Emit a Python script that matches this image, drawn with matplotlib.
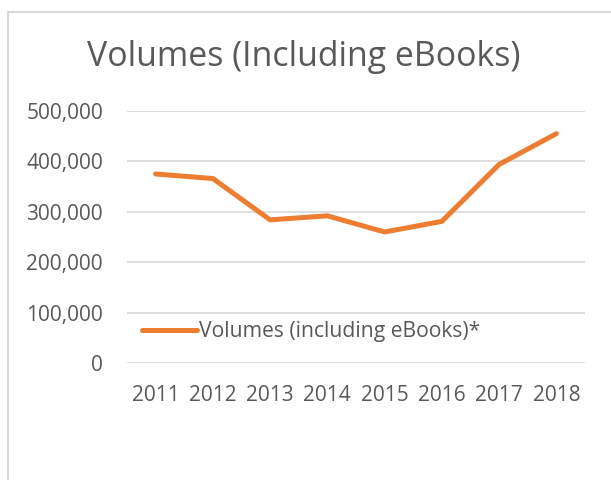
import matplotlib.pyplot as plt
from matplotlib.lines import Line2D
from matplotlib.ticker import FuncFormatter

years = ['2011', '2012', '2013', '2014', '2015', '2016', '2017', '2018']
volumes = [375000, 366000, 284000, 292000, 260000, 281000, 394000, 455000]
yticks = [0, 100000, 200000, 300000, 400000, 500000]

orange = '#ED7D31'
grey_text = '#595959'
grid_col = '#D9D9D9'

plt.rcParams['font.family'] = ['Open Sans', 'DejaVu Sans']

fig = plt.figure(figsize=(6.11, 4.8), dpi=100)
ax = fig.add_axes([127 / 611, 1 - 363 / 480, 458 / 611, 252 / 480])

x = range(len(years))
ax.plot(x, volumes, color=orange, lw=3.6, solid_capstyle='round',
        solid_joinstyle='round', label='Volumes (including eBooks)*')

ax.set_xlim(-0.5, len(years) - 0.5)
ax.set_ylim(0, 500000)
ax.set_yticks(yticks)
ax.yaxis.set_major_formatter(FuncFormatter(lambda v, p: f'{int(v):,}'))
ax.set_xticks(list(x))
ax.set_xticklabels(years)
ax.grid(axis='y', color=grid_col, lw=1.2)
ax.set_axisbelow(True)
for s in ax.spines.values():
    s.set_visible(False)
ax.tick_params(length=0, labelsize=15, labelcolor=grey_text)
ax.tick_params(axis='x', pad=15.5)
ax.tick_params(axis='y', pad=17.3)

fig.text(304 / 611, 1 - 57 / 480, 'Volumes (Including eBooks)', ha='center',
         va='center', fontsize=24.4, color=grey_text)

leg = ax.legend(loc='center left', bbox_to_anchor=(142 / 611, 1 - 332 / 480),
                bbox_transform=fig.transFigure, frameon=False, fontsize=15.2,
                handlelength=2.6, handletextpad=0.12, borderpad=0,
                borderaxespad=0)
for t in leg.get_texts():
    t.set_color(grey_text)

# chart area border (left and top only visible)
fig.add_artist(Line2D([8 / 611, 8 / 611], [0, 1 - 12 / 480], color=grid_col,
                      lw=1.5, transform=fig.transFigure))
fig.add_artist(Line2D([8 / 611, 1], [1 - 12 / 480, 1 - 12 / 480], color=grid_col,
                      lw=1.5, transform=fig.transFigure))

fig.savefig('out.png', dpi=100)
